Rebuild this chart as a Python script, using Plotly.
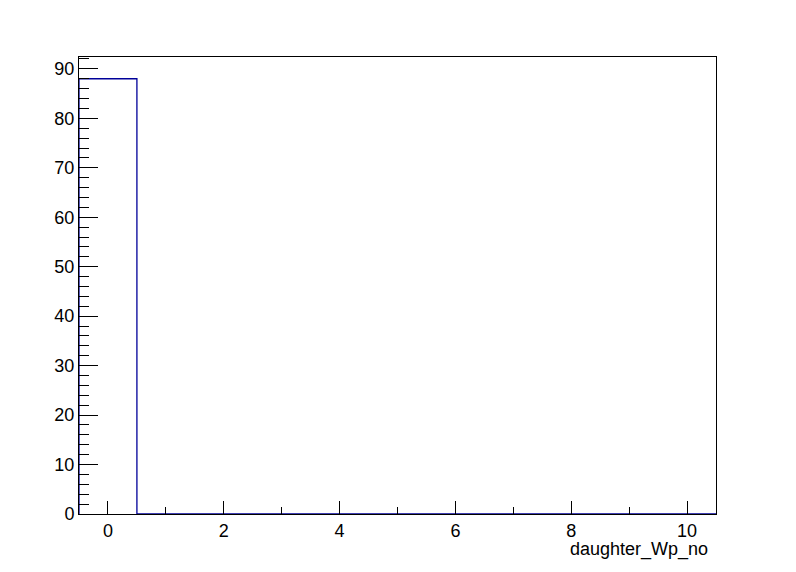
import plotly.graph_objects as go

bin_edges = [-0.5, 0.5, 1.5, 2.5, 3.5, 4.5, 5.5, 6.5, 7.5, 8.5, 9.5, 10.5]
counts = [88, 0, 0, 0, 0, 0, 0, 0, 0, 0, 0]
x_title = "daughter_Wp_no"

xs = [bin_edges[0]] + bin_edges
ys = [0] + counts + [counts[-1]]

fig = go.Figure()
fig.add_trace(go.Scatter(x=xs, y=ys, mode="lines", line=dict(color="#000099", width=1.3, shape="hv"),
                         hoverinfo="skip", showlegend=False))

font = dict(family="Liberation Sans, Arial, sans-serif", size=18, color="black")
fig.update_layout(
    width=796, height=572,
    margin=dict(l=79, r=80, t=57, b=58),
    paper_bgcolor="white", plot_bgcolor="white",
    font=font,
    xaxis=dict(range=[-0.5, 10.5], showgrid=False, zeroline=False, showline=True, mirror=True,
               linecolor="black", linewidth=1, ticks="inside", ticklen=13, tickcolor="black",
               tickmode="linear", tick0=0, dtick=2, tickfont=font,
               minor=dict(ticks="inside", ticklen=7, dtick=1, tick0=0, tickcolor="black")),
    yaxis=dict(range=[0, 92.4], showgrid=False, zeroline=False, showline=True, mirror=True,
               linecolor="black", linewidth=1, ticks="inside", ticklen=19, tickcolor="black",
               tickmode="linear", tick0=0, dtick=10, tickfont=font,
               minor=dict(ticks="inside", ticklen=10, dtick=2, tick0=0, tickcolor="black")),
    annotations=[dict(text=x_title, xref="paper", yref="paper", x=0.99, y=-0.05,
                      xanchor="right", yanchor="top", showarrow=False, font=font)],
)
fig.write_html("out.html", config={"displayModeBar": False},
               post_script="document.body.style.margin='0';document.body.style.padding='0';")
